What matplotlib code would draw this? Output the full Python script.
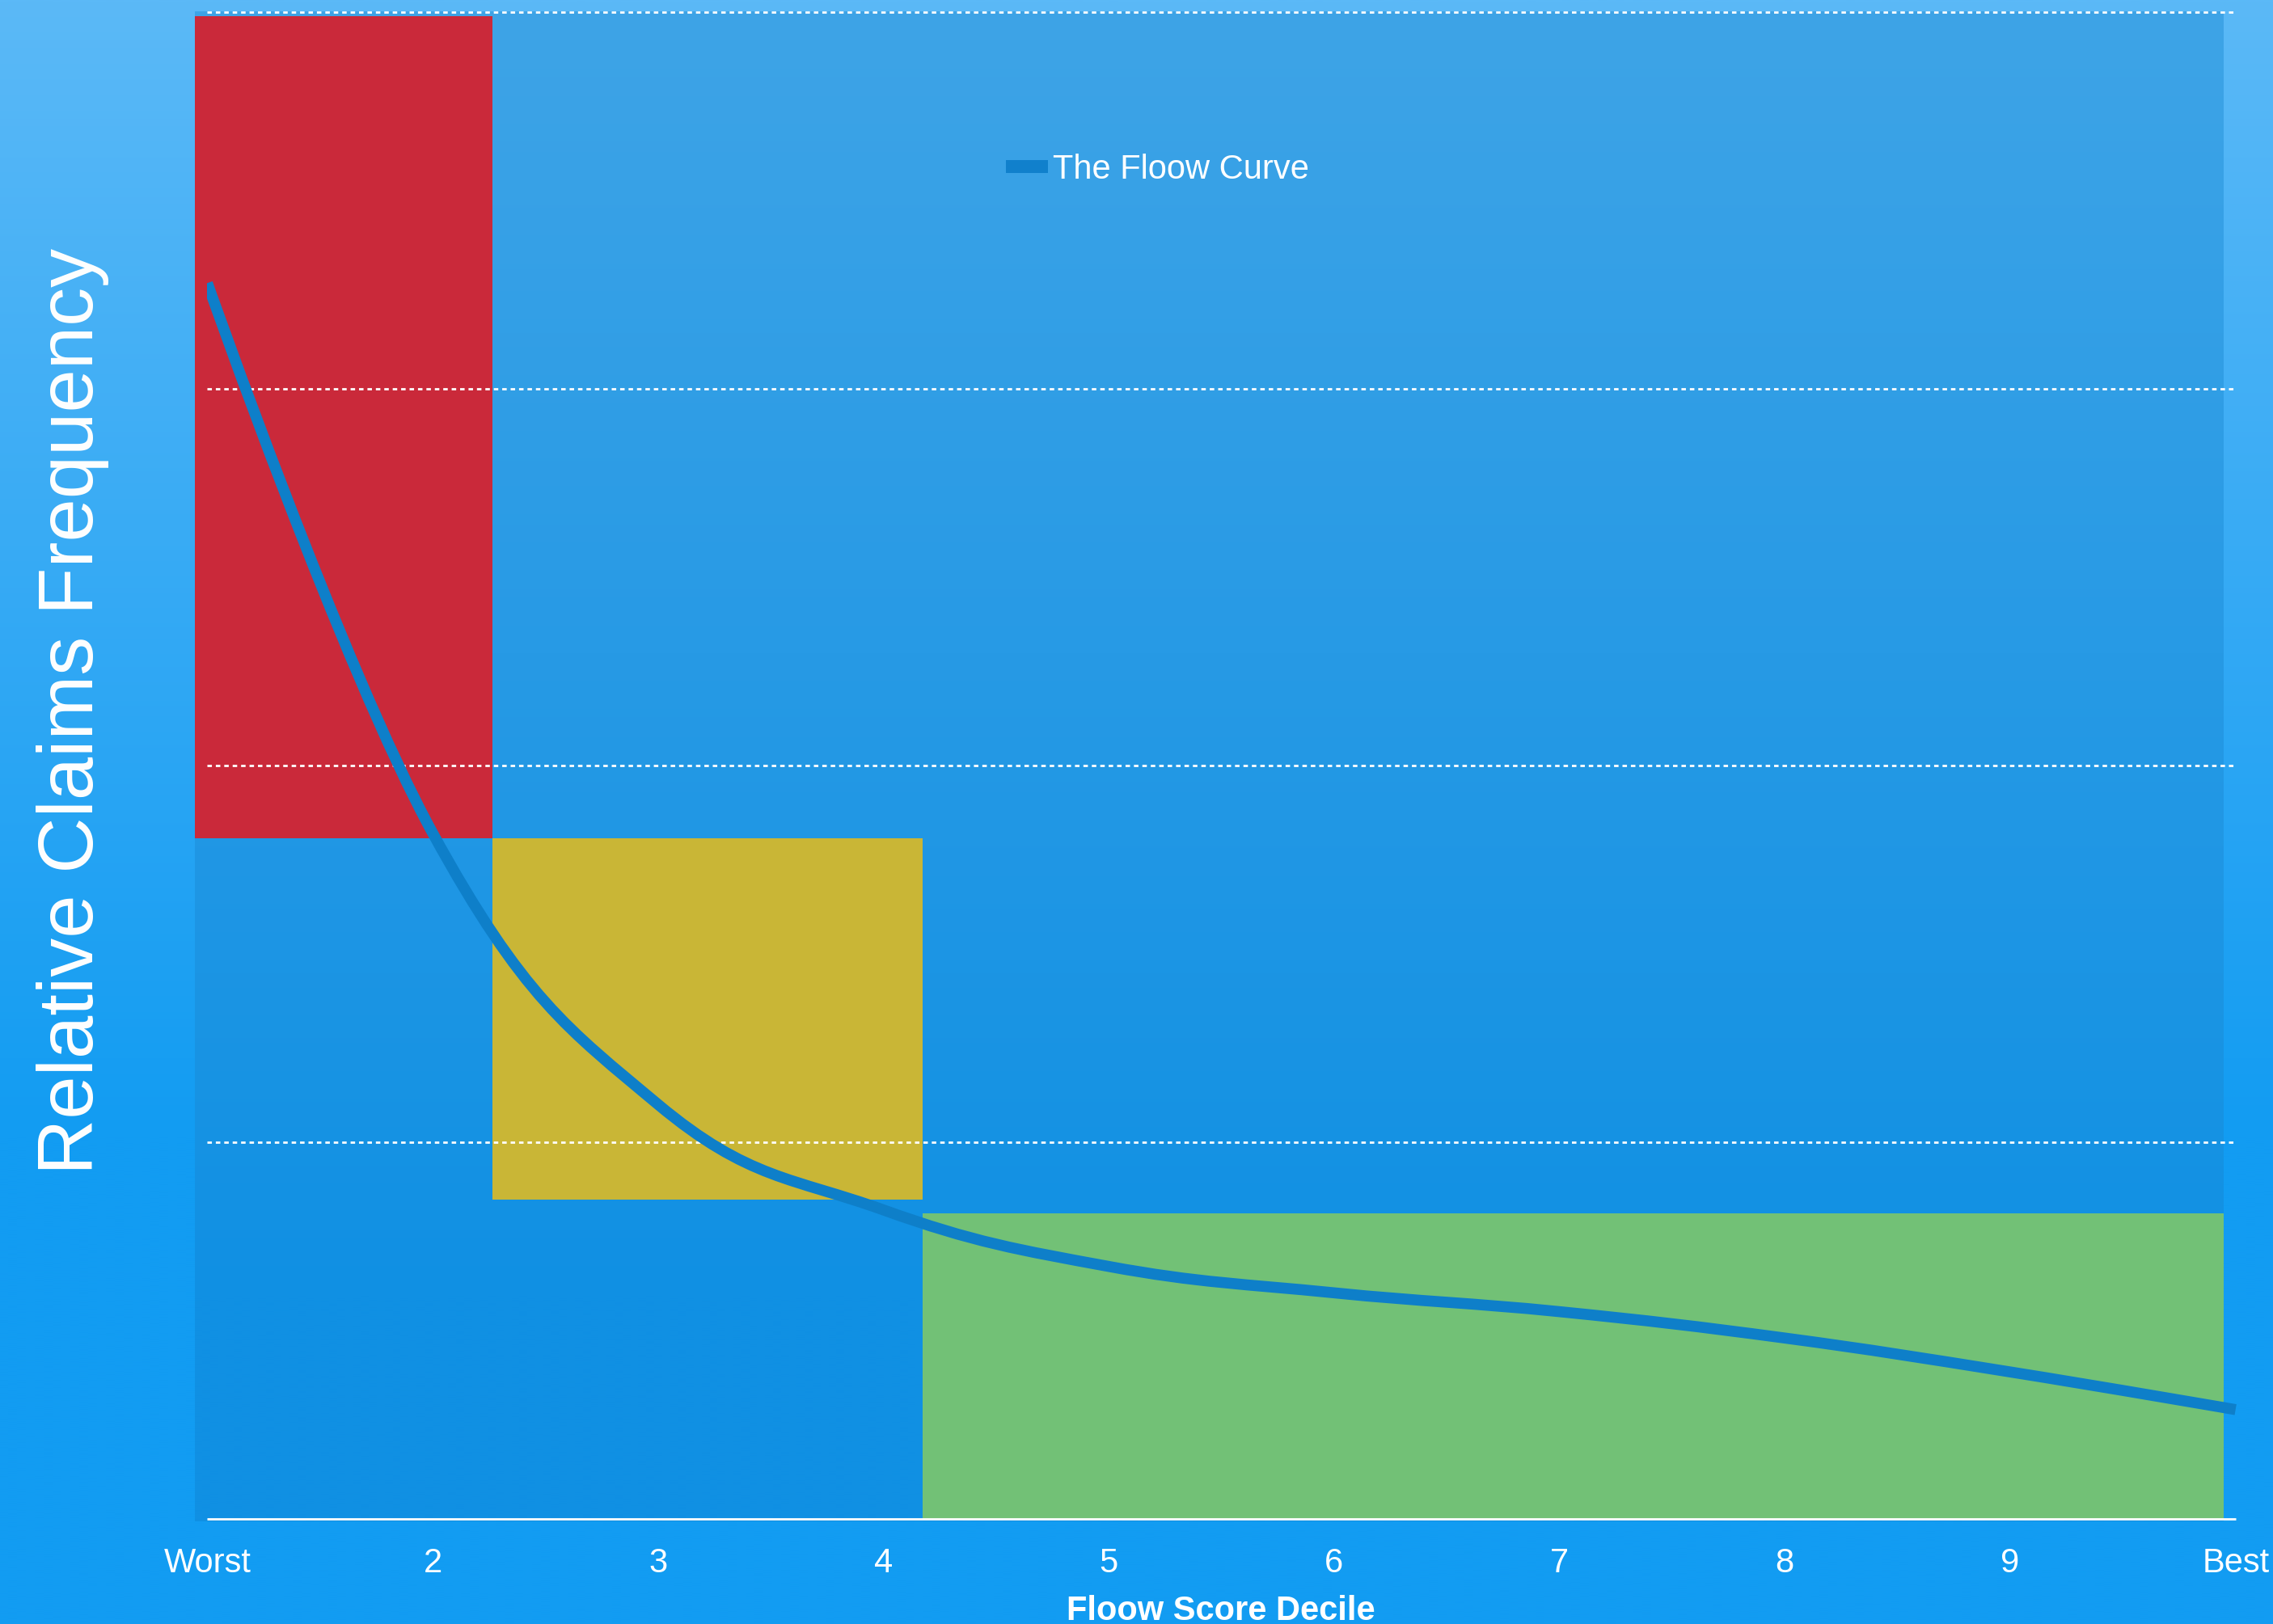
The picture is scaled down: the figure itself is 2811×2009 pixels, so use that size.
import numpy as np
import matplotlib
matplotlib.use("Agg")
import matplotlib.pyplot as plt
from matplotlib.path import Path
from matplotlib.patches import PathPatch, Rectangle
from matplotlib.lines import Line2D
from matplotlib.colors import to_rgb

# ---------------- data ----------------
deciles = ["Worst", "2", "3", "4", "5", "6", "7", "8", "9", "Best"]
floow_curve = [3.28, 1.82, 1.10, 0.82, 0.67, 0.60, 0.55, 0.48, 0.39, 0.29]

band_colors = ["#ca293a", "#c9b636", "#72c176"]
band_start = [-0.055, 1.265, 3.174]
band_end = [1.265, 3.174, 8.947]
band_low = [1.806, 0.847, 0.0]
band_high = [3.988, 1.806, 0.811]

grid_values = [1, 2, 3, 4]

legend_label = "The Floow Curve"
x_title = "Floow Score Decile"
y_title = "Relative Claims Frequency"

# ---------------- style ----------------
plt.rcParams["font.family"] = ["Liberation Sans", "DejaVu Sans"]
plt.rcParams["lines.scale_dashes"] = False

W, H, DPI = 2811, 2009, 100
fig = plt.figure(figsize=(W / DPI, H / DPI), dpi=DPI)


def vgrad(top, bottom, stop, n=512):
    t = np.linspace(0, 1, n)
    f = np.clip(t / stop, 0, 1)[:, None]
    a, b = np.array(to_rgb(top)), np.array(to_rgb(bottom))
    return (a * (1 - f) + b * f)[:, None, :]


# figure background gradient
bg = fig.add_axes([0, 0, 1, 1], zorder=-10)
bg.imshow(vgrad("#5bb9f7", "#129cf2", 0.70), extent=(0, 1, 0, 1),
          aspect="auto", origin="upper", interpolation="bilinear")
bg.set_axis_off()

# main axes
ax = fig.add_axes([0.0714, 0.0508, 0.9270, 0.9489])
ax.set_facecolor("none")
ax.set_xlim(-0.2, 9.15)
ax.set_ylim(-0.06, 4.03)

# plot-area gradient
ax.imshow(vgrad("#3ea4e7", "#1090e3", 0.85), extent=(band_start[0], band_end[-1], -0.006, 4.0),
          aspect="auto", origin="upper", interpolation="bilinear", zorder=0)

# coloured bands
ax.bar(band_start, np.array(band_high) - np.array(band_low),
       width=np.array(band_end) - np.array(band_start), bottom=band_low,
       align="edge", color=band_colors, linewidth=0, zorder=1)

# grid lines and axis line
ax.hlines(grid_values, 0, 9, colors="white", linestyles=(0, (4, 3.5)), lw=2, zorder=2)
ax.hlines([0], 0, 9, colors="white", lw=2, zorder=2, clip_on=False)


# spline curve (Highcharts-like smoothing)
def spline_path(xs, ys, smoothing=1.5):
    n = len(xs)
    denom = smoothing + 1
    lc = [None] * n
    rc = [None] * n
    for i in range(1, n - 1):
        px, py = xs[i], ys[i]
        lx, ly = xs[i - 1], ys[i - 1]
        nx, ny = xs[i + 1], ys[i + 1]
        lcx = (smoothing * px + lx) / denom
        lcy = (smoothing * py + ly) / denom
        rcx = (smoothing * px + nx) / denom
        rcy = (smoothing * py + ny) / denom
        corr = (rcy - lcy) * (rcx - px) / (rcx - lcx) + py - rcy
        lcy += corr
        rcy += corr
        if lcy > ly and lcy > py:
            lcy = max(ly, py); rcy = 2 * py - lcy
        elif lcy < ly and lcy < py:
            lcy = min(ly, py); rcy = 2 * py - lcy
        if rcy > ny and rcy > py:
            rcy = max(ny, py); lcy = 2 * py - rcy
        elif rcy < ny and rcy < py:
            rcy = min(ny, py); lcy = 2 * py - rcy
        lc[i] = (lcx, lcy)
        rc[i] = (rcx, rcy)
    verts = [(xs[0], ys[0])]
    codes = [Path.MOVETO]
    for i in range(1, n):
        c1 = rc[i - 1] if rc[i - 1] is not None else (xs[i - 1], ys[i - 1])
        c2 = lc[i] if lc[i] is not None else (xs[i], ys[i])
        verts += [c1, c2, (xs[i], ys[i])]
        codes += [Path.CURVE4] * 3
    return Path(verts, codes)


xpos = np.arange(len(deciles))
curve = PathPatch(spline_path(list(xpos), floow_curve), facecolor="none",
                  edgecolor="#0e7fc9", lw=9.8, capstyle="butt", joinstyle="round", zorder=3)
ax.add_patch(curve)
curve.set_clip_path(Rectangle((0, -1), 10, 6, transform=ax.transData))

# axes cosmetics
ax.set_xticks(xpos, deciles)
ax.set_yticks([])
ax.tick_params(axis="x", length=0, pad=5, labelsize=30, labelcolor="white")
for s in ax.spines.values():
    s.set_visible(False)

# titles
fig.text(1510 / W, 5 / H, x_title, ha="center", va="baseline",
         fontsize=30, fontweight="bold", color="white")
fig.text(115 / W, 1129 / H, y_title, rotation=90, rotation_mode="anchor",
         ha="center", va="baseline", fontsize=69, color="white")

# legend
handle = Line2D([], [], color="#1080cc", lw=11.5, solid_capstyle="butt")
leg = fig.legend([handle], [legend_label], loc="center left",
                 bbox_to_anchor=(1244 / W, 1 - 210 / H), frameon=False,
                 fontsize=30, handlelength=1.25, handletextpad=0.15,
                 borderpad=0, borderaxespad=0)
for t in leg.get_texts():
    t.set_color("white")

fig.savefig("out.png", dpi=DPI)
